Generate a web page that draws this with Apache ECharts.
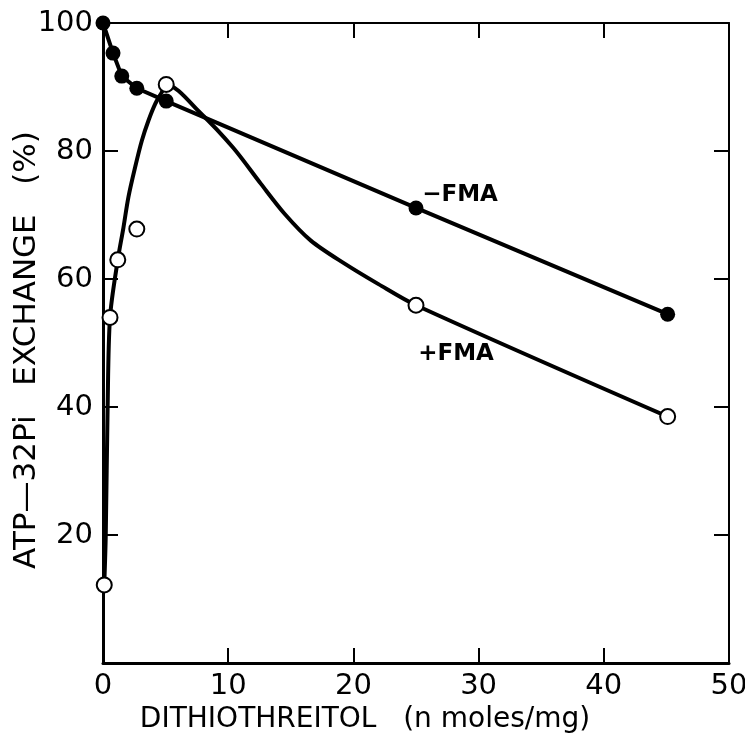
<!doctype html>
<html lang="en">
<head>
<meta charset="UTF-8"/>
<title>ATP-32Pi exchange vs dithiothreitol</title>
<script src="https://cdn.jsdelivr.net/npm/echarts@6/dist/echarts.min.js"></script>
<style>html,body{margin:0;padding:0;background:#fff;}</style>
</head>
<body>
<div id="main" style="width:745px;height:734px;"></div>
<script type="text/javascript">
// -FMA (filled circles), joined point to point
var minusFmaX = [0, 0.8, 1.5, 2.7, 5.05, 25, 45.1];
var minusFmaY = [100, 95.3, 91.7, 89.8, 87.8, 71.1, 54.5];
// +FMA (open circles)
var plusFmaX = [0.1, 0.56, 1.18, 2.7, 5.05, 25, 45.1];
var plusFmaY = [12.2, 54, 63, 67.8, 90.4, 55.9, 38.5];
// hand drawn fit through +FMA
var curveX = [0.1, 0.22, 0.37, 0.56, 1.18, 1.63, 2.03, 2.57, 3.1, 3.64, 4.18, 4.7, 5.05, 7.8, 10.4, 12.6, 14.5, 16.6, 19.3, 22, 25, 45.1];
var curveY = [12.2, 20, 40, 54, 63, 68, 72.8, 77.5, 81.6, 84.8, 87.4, 89.2, 90.4, 85.9, 80.5, 74.9, 70.2, 66, 62.4, 59.2, 55.9, 38.5];
var yTickLabels = ['20', '40', '60', '80', '100'];

function pairs(xs, ys) {
	var out = [];
	for (var i = 0; i < xs.length; i++) out.push([xs[i], ys[i]]);
	return out;
}

var font = 'DejaVu Sans';
var myChart = echarts.init(document.getElementById('main'));

var minusData = pairs(minusFmaX, minusFmaY);
minusData[5] = {
	value: minusData[5],
	label: { show: true, formatter: '\u2212FMA', position: 'inside', offset: [44, -13],
		fontFamily: font, fontSize: 23, fontWeight: 'bold', color: '#000' }
};
var plusData = pairs(plusFmaX, plusFmaY);
plusData[5] = {
	value: plusData[5],
	label: { show: true, formatter: '+FMA', position: 'inside', offset: [40, 49],
		fontFamily: font, fontSize: 23, fontWeight: 'bold', color: '#000' }
};

var sideAxis = {
	axisLine: { onZero: false, lineStyle: { color: '#000', width: 2 } },
	axisTick: { inside: true, length: 15, lineStyle: { color: '#000', width: 2 } },
	axisLabel: { show: false },
	splitLine: { show: false }
};

var option = {
	animation: false,
	grid: { left: 103, right: 16, top: 23, bottom: 71, outerBoundsMode: 'none', containLabel: false },
	// y axis title, written sideways at the left edge
	graphic: [{
		type: 'text', x: 27, y: 350, rotation: Math.PI / 2,
		style: { text: 'ATP\u201432Pi   EXCHANGE   (%)', fontFamily: font, fontSize: 31,
			fill: '#000', align: 'center', verticalAlign: 'middle' }
	}],
	xAxis: [{
		type: 'value', min: 0, max: 50, interval: 10,
		name: 'DITHIOTHREITOL   (n moles/mg)', nameLocation: 'middle', nameGap: 40,
		nameTextStyle: { fontFamily: font, fontSize: 28, color: '#000', padding: [0, 102, 0, 0] },
		axisLine: { onZero: false, lineStyle: { color: '#000', width: 3 } },
		axisTick: { inside: true, length: 15, lineStyle: { color: '#000', width: 2 } },
		axisLabel: { fontFamily: font, fontSize: 29, color: '#000', margin: 9 },
		splitLine: { show: false }
	}, Object.assign({ type: 'value', min: 0, max: 50, interval: 10, position: 'top' }, sideAxis)],
	yAxis: [{
		type: 'value', min: 0, max: 100, interval: 20,
		axisLine: { onZero: false, lineStyle: { color: '#000', width: 3 } },
		axisTick: { inside: true, length: 15, lineStyle: { color: '#000', width: 2 } },
		axisLabel: { fontFamily: font, fontSize: 29, color: '#000', margin: 10,
			formatter: function (v) { return yTickLabels.indexOf(String(v)) >= 0 ? String(v) : ''; } },
		splitLine: { show: false }
	}, Object.assign({ type: 'value', min: 0, max: 100, interval: 20, position: 'right' }, sideAxis)],
	series: [{
		name: '+FMA fit', type: 'line', data: pairs(curveX, curveY),
		smooth: 0.3, showSymbol: false, symbol: 'none',
		lineStyle: { color: '#000', width: 4 }, z: 2
	}, {
		name: '-FMA', type: 'line', data: minusData,
		symbol: 'circle', symbolSize: 15,
		itemStyle: { color: '#000', opacity: 1 },
		lineStyle: { color: '#000', width: 4 }, z: 3
	}, {
		name: '+FMA', type: 'scatter', data: plusData,
		symbol: 'circle', symbolSize: 15,
		itemStyle: { color: '#fff', borderColor: '#000', borderWidth: 2, opacity: 1 }, z: 4
	}]
};

myChart.setOption(option);
</script>
</body>
</html>
